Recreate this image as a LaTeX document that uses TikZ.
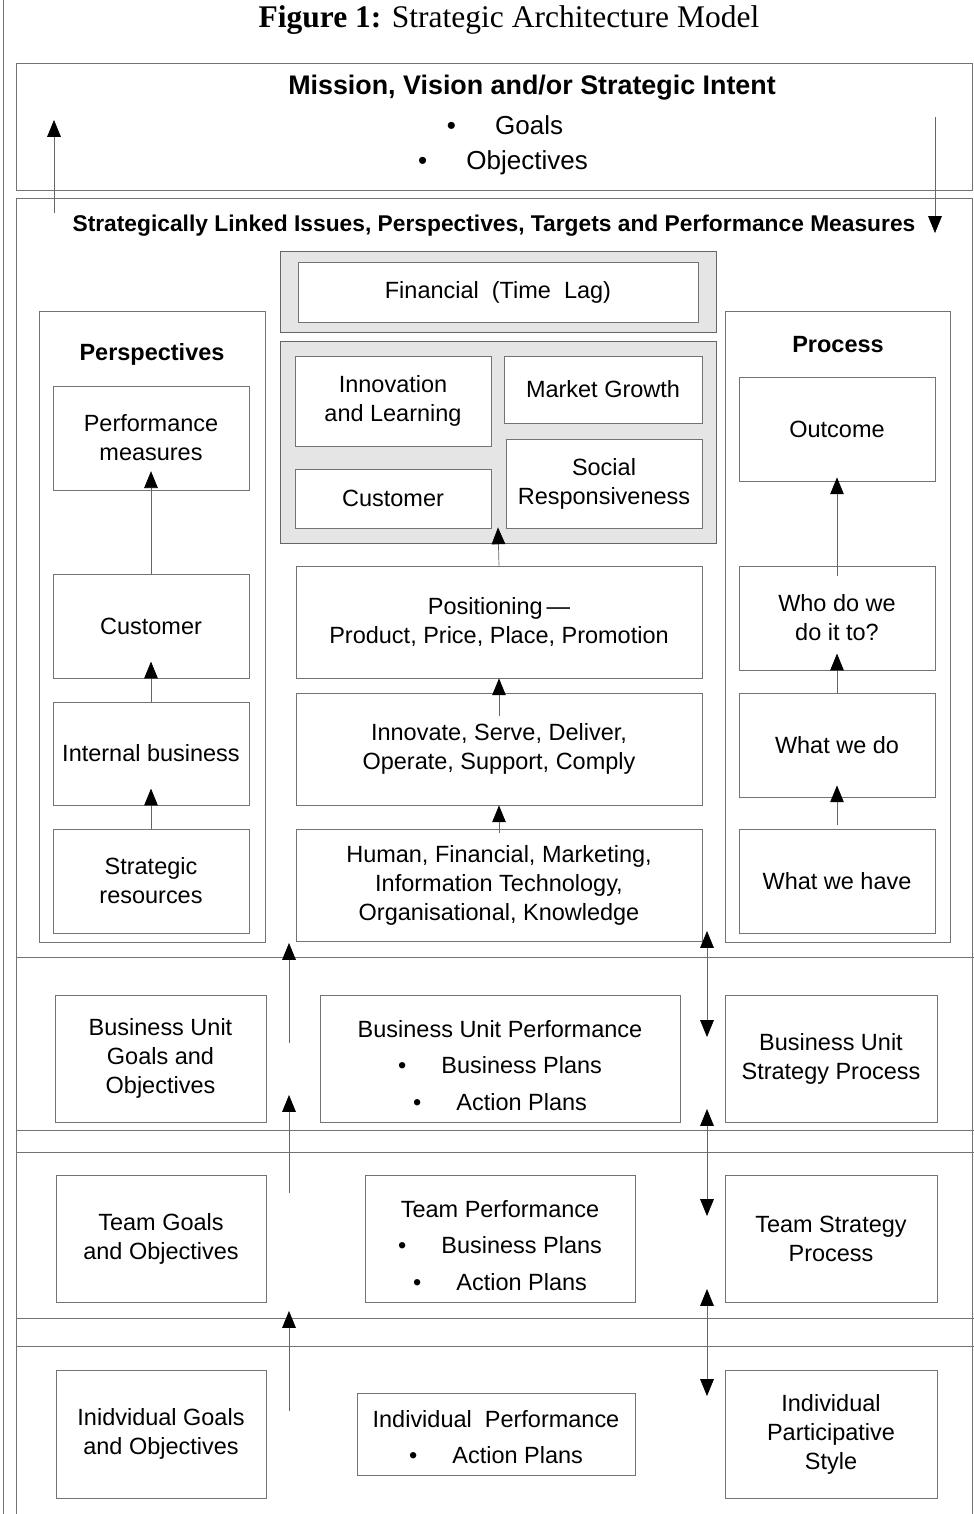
\documentclass[tikz,border=0pt]{standalone}
\usepackage{fontspec}
\setmainfont{Liberation Sans}
\newfontfamily\titolofont{Liberation Serif}
\usetikzlibrary{arrows.meta}

\tikzset{
  box/.style={draw=black!55, line width=0.6pt, fill=white, inner sep=0pt, align=center},
  cornice/.style={draw=black!55, line width=0.6pt},
  grigio/.style={draw=black!60, line width=0.6pt, fill=black!10, inner sep=0pt},
  testo/.style={inner sep=0pt, align=center},
  titoletto/.style={testo, font=\fontsize{16.7}{20.6}\selectfont\bfseries},
  punta/.tip={Triangle[length=0.42cm, width=0.34cm, color=black]},
  arr/.style={draw=black!60, line width=0.5pt, -punta},
  arrd/.style={draw=black!60, line width=0.5pt, punta-punta},
}

\begin{document}
\begin{tikzpicture}[x=0.025cm, y=-0.025cm, font=\fontsize{16.7}{20.6}\selectfont]
  % --- macro riutilizzabili -----------------------------------------
  \def\px{0.025cm}   % un pixel del disegno
  \def\scatola#1#2#3#4#5#6{\node[box, minimum width={(#4-#2)*\px}, minimum height={(#5-#3)*\px}] (#1) at ({(#2+#4)/2},{(#3+#5)/2}) {#6};}
  \def\elenco{\textbullet\hspace{1.5em}}
  \def\spinta{\rule{0pt}{22pt}}   % abbassa un poco gli elenchi puntati
  \useasboundingbox (0,0) rectangle (974,1514);
  % --- titolo e cornici ---------------------------------------------
  \node[testo, font=\titolofont\fontsize{22.4}{26}\selectfont] (titolo) at (509,20) {\textbf{Figure 1:} Strategic Architecture Model};
  \draw[cornice] (3,0) -- (3,1514);
  \draw[cornice] (16,63) rectangle (972,190);
  \draw[cornice] (16,1514) -- (16,198) -- (972,198) -- (972,1514);
  \foreach \y in {957,1130,1152,1318,1346}
    \draw[cornice] (16,\y) -- (974,\y);
  % --- missione -----------------------------------------------------
  \node[testo, font=\fontsize{19.1}{22}\selectfont\bfseries] (missione) at (532,88) {Mission, Vision and/or Strategic Intent};
  \node[testo, font=\fontsize{18.5}{22}\selectfont] (goals) at (505,125) {\elenco Goals};
  \node[testo, font=\fontsize{18.5}{22}\selectfont] (objectives) at (503,163) {\elenco Objectives};
  \node[testo, font=\fontsize{16.2}{20}\selectfont\bfseries] (linked) at (494,226) {Strategically Linked Issues, Perspectives, Targets and Performance Measures};
  \coordinate (su0) at (54,213);
  \coordinate (su1) at (54,120);
  \coordinate (giu0) at (935,117);
  \coordinate (giu1) at (935,233);
  \draw[arr] (su0) -- (su1);
  \draw[arr] (giu0) -- (giu1);
  % --- colonna centrale ---------------------------------------------
  \node[grigio, minimum width={436*\px}, minimum height={81*\px}] (areafin) at (498,291.5) {};
  \node[grigio, minimum width={436*\px}, minimum height={202*\px}] (areapersp) at (498,442) {};
  \scatola{fin}{298}{262}{698}{322}{Financial\ \ (Time\ \ Lag)}
  \scatola{innov}{295}{356}{491}{446}{Innovation\\and Learning}
  \scatola{market}{504}{356}{702}{423}{Market Growth}
  \scatola{custc}{295}{469}{491}{528}{Customer}
  \scatola{social}{506}{439}{702}{528}{Social\\Responsiveness}
  \scatola{position}{296}{566}{702}{678}{Positioning\,—\\Product, Price, Place, Promotion}
  \scatola{innovate}{296}{693}{702}{805}{Innovate, Serve, Deliver,\\Operate, Support, Comply}
  \scatola{human}{296}{829}{702}{941}{Human, Financial, Marketing,\\Information Technology,\\Organisational, Knowledge}
  \draw[arr] (position.north) -- ([yshift=0.4cm]areapersp.south);
  \draw[arr] ([yshift=-0.58cm]innovate.north) -- (position.south);
  \draw[arr] ([yshift=-0.1cm]human.north) -- (innovate.south);
  % --- prospettive --------------------------------------------------
  \draw[cornice] (39,311) rectangle (265,942);
  \node[titoletto] (persp) at (152,354) {Perspectives};
  \scatola{perf}{53}{386}{249}{490}{Performance\\measures}
  \scatola{custp}{53}{574}{249}{678}{Customer}
  \scatola{internal}{53}{702}{249}{805}{Internal business}
  \scatola{resources}{53}{829}{249}{933}{Strategic\\resources}
  \draw[arr] (custp.north) -- ([yshift=0.48cm]perf.south);
  \draw[arr] (internal.north) -- ([yshift=0.42cm]custp.south);
  \draw[arr] (resources.north) -- ([yshift=0.42cm]internal.south);
  % --- processo -----------------------------------------------------
  \draw[cornice] (725,311) rectangle (950,942);
  \node[titoletto] (proc) at (838,345) {Process};
  \scatola{outcome}{739}{377}{935}{481}{Outcome}
  \scatola{who}{739}{566}{935}{670}{Who do we\\do it to?}
  \scatola{whatdo}{739}{693}{935}{797}{What we do}
  \scatola{whathave}{739}{829}{935}{933}{What we have}
  \draw[arr] ([yshift=-0.25cm]who.north) -- ([yshift=0.1cm]outcome.south);
  \draw[arr] (whatdo.north) -- ([yshift=0.42cm]who.south);
  \draw[arr] ([yshift=0.1cm]whathave.north) -- ([yshift=0.3cm]whatdo.south);
  % --- livelli: business unit, team, individuo -----------------------
  \scatola{bugoals}{55}{995}{266}{1122}{Business Unit\\Goals and\\Objectives}
  \scatola{buperf}{320}{995}{680}{1122}{\spinta Business Unit Performance\\[0.18cm]\elenco Business Plans\\[0.2cm]\elenco Action Plans}
  \scatola{bustrat}{725}{995}{937}{1122}{Business Unit\\Strategy Process}
  \scatola{tgoals}{56}{1175}{266}{1302}{Team Goals\\and Objectives}
  \scatola{tperf}{365}{1175}{635}{1302}{\spinta Team Performance\\[0.18cm]\elenco Business Plans\\[0.2cm]\elenco Action Plans}
  \scatola{tstrat}{725}{1175}{937}{1302}{Team Strategy\\Process}
  \scatola{igoals}{56}{1370}{266}{1498}{Inidvidual Goals\\and Objectives}
  \scatola{iperf}{357}{1393}{635}{1475}{\rule{0pt}{17pt}Individual\ \ Performance\\[0.18cm]\elenco Action Plans}
  \scatola{istyle}{725}{1370}{937}{1498}{Individual\\Participative\\Style}
  % --- frecce tra i livelli -----------------------------------------
  \foreach \a/\b [count=\i] in {1043/943, 1193/1095, 1411/1311} {
    \coordinate (sx\i a) at (289,\a);
    \coordinate (sx\i b) at (289,\b);
    \draw[arr] (sx\i a) -- (sx\i b);
  }
  \foreach \a/\b [count=\i] in {931/1037, 1109/1216, 1289/1396} {
    \coordinate (dx\i a) at (707,\a);
    \coordinate (dx\i b) at (707,\b);
    \draw[arrd] (dx\i a) -- (dx\i b);
  }
\end{tikzpicture}
\end{document}
